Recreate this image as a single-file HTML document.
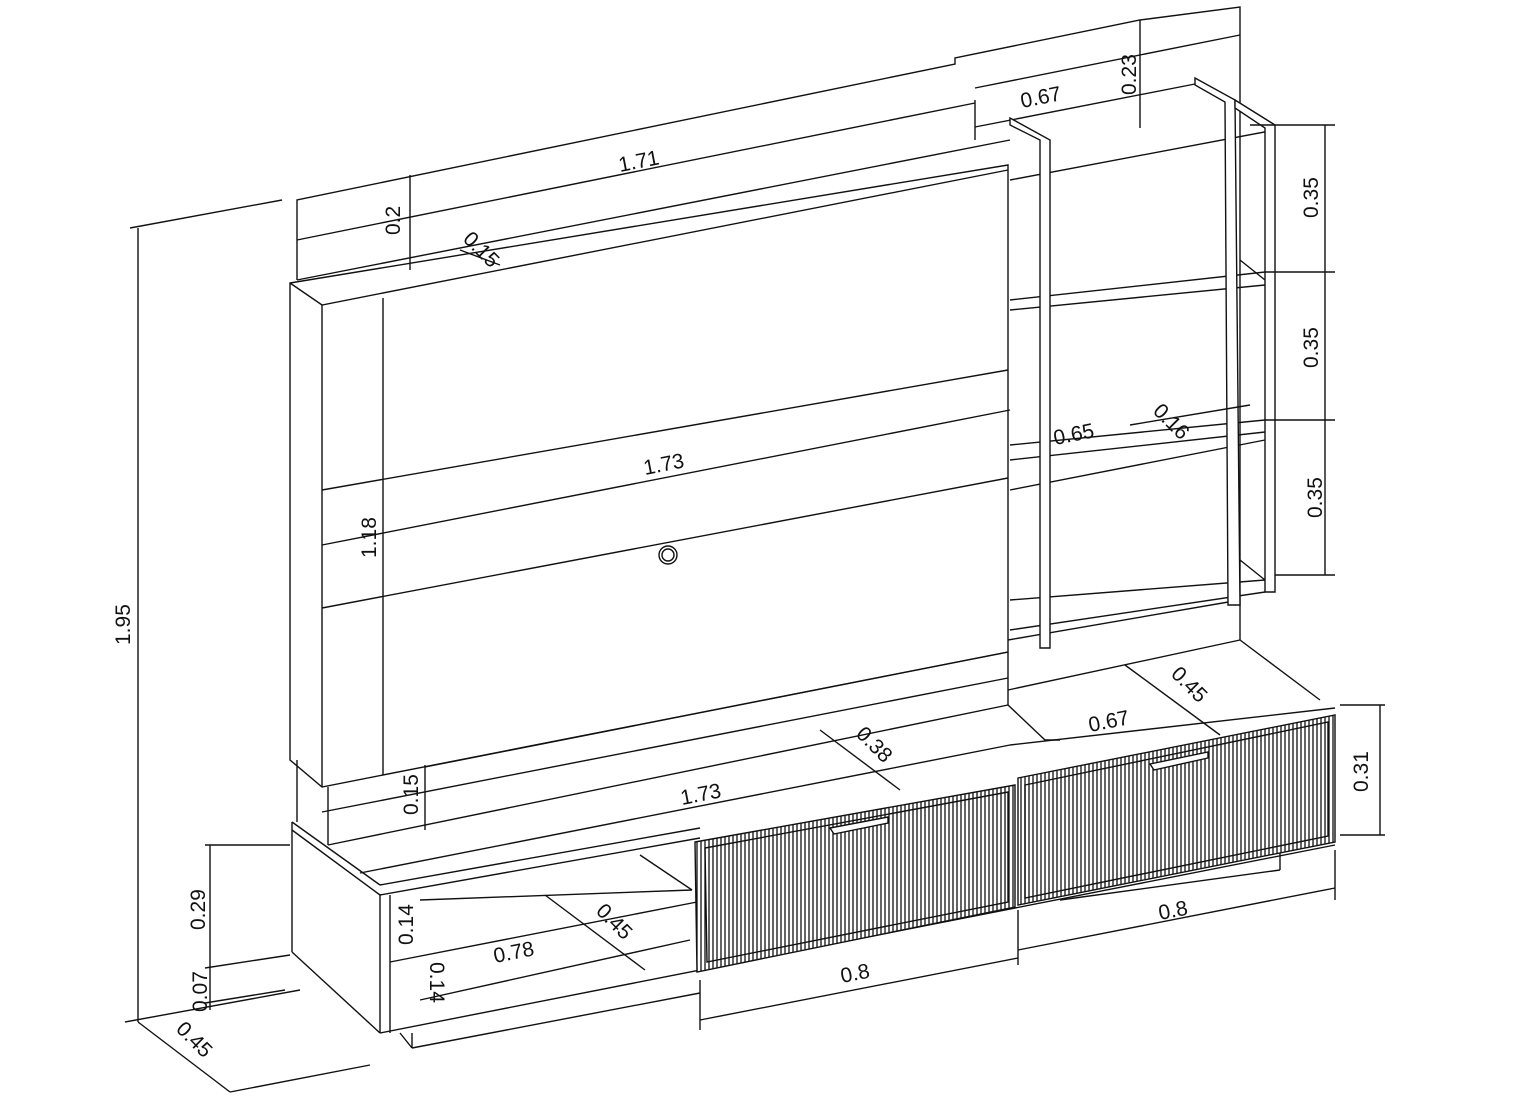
<!DOCTYPE html>
<html><head><style>
html,body{margin:0;padding:0;background:#fff;}
svg{display:block}
text{font-family:"Liberation Sans",sans-serif;font-size:21px;fill:#111;}
</style></head><body>
<svg width="1517" height="1113" viewBox="0 0 1517 1113" xmlns="http://www.w3.org/2000/svg">
<defs>
<pattern id="h" width="4" height="10" patternUnits="userSpaceOnUse">
<rect width="4" height="10" fill="#fff"/><line x1="1" y1="0" x2="1" y2="10" stroke="#111" stroke-width="1.3"/>
</pattern>
</defs>
<g fill="none" stroke="#111" stroke-width="1.4">
<!-- back top panel -->
<polyline points="297,280 297,200 955,64 955,58 1140,20 1240,7 1240,640"/>
<line x1="297" y1="280" x2="1010" y2="140"/>
<line x1="975" y1="100" x2="975" y2="140"/>
<line x1="975" y1="127" x2="1195" y2="84"/>
<!-- main panel -->
<polygon points="290,283 1008,165 1008,652 322,787 290,760" fill="#fff"/>
<polyline points="290,283 322,305 1008,170"/>
<line x1="322" y1="305" x2="322" y2="787"/>
<line x1="322" y1="490" x2="1008" y2="370"/>
<line x1="322" y1="608" x2="1008" y2="478"/>
<!-- lower box -->
<line x1="297" y1="760" x2="297" y2="822"/>
<line x1="328" y1="787" x2="328" y2="845"/>
<line x1="328" y1="845" x2="1008" y2="705"/>
<line x1="1008" y1="652" x2="1008" y2="705"/>
<polyline points="1008,705 1045,740 1060,740"/>
<circle cx="668" cy="555" r="9"/><circle cx="668" cy="555" r="6"/>
<!-- right shelf unit -->
<line x1="1010" y1="180" x2="1275" y2="130"/>
<line x1="1010" y1="300" x2="1265" y2="272"/>
<line x1="1010" y1="310" x2="1265" y2="285"/>
<line x1="1010" y1="445" x2="1265" y2="420"/>
<line x1="1010" y1="460" x2="1265" y2="432"/>
<line x1="1010" y1="490" x2="1265" y2="440"/>
<line x1="1010" y1="600" x2="1265" y2="580"/>
<line x1="1010" y1="630" x2="1265" y2="592"/>
<line x1="1008" y1="640" x2="1240" y2="600"/>
<line x1="1008" y1="690" x2="1240" y2="640"/>
<line x1="1240" y1="640" x2="1320" y2="700"/>
<polygon points="1010,118 1050,140 1050,648 1040,648 1040,140 1010,125" fill="#fff"/>
<polygon points="1195,78 1235,100 1240,605 1228,605 1225,102 1195,85" fill="#fff"/>
<polygon points="1235,100 1275,125 1275,592 1265,592 1265,128 1235,108" fill="#fff"/>
<line x1="1240" y1="260" x2="1265" y2="280"/>
<line x1="1240" y1="560" x2="1265" y2="580"/>
<!-- base -->
<line x1="292" y1="822" x2="292" y2="952"/>
<line x1="292" y1="952" x2="380" y2="1033"/>
<line x1="292" y1="822" x2="380" y2="885"/>
<line x1="292" y1="830" x2="380" y2="895"/>
<line x1="380" y1="885" x2="700" y2="828"/>
<line x1="380" y1="895" x2="700" y2="838"/>
<line x1="360" y1="873" x2="1010" y2="745"/>
<line x1="1010" y1="745" x2="1335" y2="708"/>
<line x1="380" y1="895" x2="380" y2="1033"/>
<line x1="390" y1="895" x2="390" y2="1033"/>
<line x1="380" y1="1033" x2="1335" y2="845"/>
<line x1="412" y1="1033" x2="412" y2="1048"/>
<line x1="400" y1="1033" x2="412" y2="1048"/>
<line x1="412" y1="1048" x2="700" y2="993"/>
<line x1="390" y1="962" x2="697" y2="902"/>
<line x1="640" y1="855" x2="692" y2="890"/>
<line x1="420" y1="900" x2="692" y2="890"/>
<line x1="1280" y1="845" x2="1280" y2="870"/>
<line x1="1060" y1="900" x2="1280" y2="870"/>
<!-- doors -->
<polygon points="695,842 1015,785 1015,907 697,972" fill="url(#h)"/>
<polygon points="705,848 1008,792 1008,902 707,962"/>
<polygon points="1018,778 1335,715 1335,842 1018,905" fill="url(#h)"/>
<polygon points="1025,785 1328,722 1328,836 1025,898"/>
<polygon points="830,828 888,817 888,823 834,834" fill="#fff"/>
<polygon points="1150,764 1208,752 1208,758 1154,770" fill="#fff"/>
<!-- dimension lines -->
<line x1="138" y1="228" x2="138" y2="1022"/>
<line x1="130" y1="228" x2="282" y2="200"/>
<line x1="125" y1="1022" x2="300" y2="990"/>
<line x1="138" y1="1022" x2="230" y2="1092"/>
<line x1="230" y1="1092" x2="370" y2="1065"/>
<line x1="297" y1="240" x2="975" y2="103"/>
<line x1="410" y1="175" x2="410" y2="270"/>
<line x1="975" y1="88" x2="1240" y2="35"/>
<line x1="1140" y1="20" x2="1140" y2="128"/>
<line x1="1250" y1="125" x2="1335" y2="125"/>
<line x1="1325" y1="125" x2="1325" y2="575"/>
<line x1="1265" y1="272" x2="1335" y2="272"/>
<line x1="1265" y1="420" x2="1335" y2="420"/>
<line x1="1275" y1="575" x2="1335" y2="575"/>
<line x1="1340" y1="705" x2="1385" y2="705"/>
<line x1="1380" y1="705" x2="1380" y2="835"/>
<line x1="1340" y1="835" x2="1385" y2="835"/>
<line x1="383" y1="298" x2="383" y2="775"/>
<line x1="322" y1="545" x2="1010" y2="410"/>
<line x1="425" y1="765" x2="425" y2="830"/>
<line x1="425" y1="767" x2="1008" y2="652"/>
<line x1="322" y1="812" x2="1008" y2="678"/>
<line x1="210" y1="845" x2="210" y2="1010"/>
<line x1="205" y1="845" x2="290" y2="845"/>
<line x1="205" y1="968" x2="290" y2="955"/>
<line x1="205" y1="1003" x2="285" y2="990"/>
<line x1="700" y1="980" x2="700" y2="1030"/>
<line x1="700" y1="1020" x2="1018" y2="958"/>
<line x1="1018" y1="910" x2="1018" y2="965"/>
<line x1="1018" y1="950" x2="1335" y2="888"/>
<line x1="1335" y1="850" x2="1335" y2="900"/>
<line x1="420" y1="1000" x2="690" y2="940"/>
<line x1="545" y1="895" x2="645" y2="970"/>
<line x1="820" y1="730" x2="900" y2="790"/>
<line x1="1125" y1="665" x2="1220" y2="735"/>
<line x1="1130" y1="425" x2="1250" y2="405"/>
<line x1="460" y1="250" x2="500" y2="265"/>
</g>
<g>
<text transform="translate(620,172) rotate(-11)">1.71</text>
<text transform="translate(400,235) rotate(-90)">0.2</text>
<text transform="translate(462,240) rotate(45)">0.15</text>
<text transform="translate(1022,108) rotate(-11)">0.67</text>
<text transform="translate(1136,95) rotate(-90)">0.23</text>
<text transform="translate(1318,218) rotate(-90)">0.35</text>
<text transform="translate(1318,368) rotate(-90)">0.35</text>
<text transform="translate(1322,518) rotate(-90)">0.35</text>
<text transform="translate(645,475) rotate(-11)">1.73</text>
<text transform="translate(376,558) rotate(-90)">1.18</text>
<text transform="translate(1055,445) rotate(-11)">0.65</text>
<text transform="translate(1152,412) rotate(45)">0.16</text>
<text transform="translate(130,645) rotate(-90)">1.95</text>
<text transform="translate(1170,675) rotate(45)">0.45</text>
<text transform="translate(1090,732) rotate(-11)">0.67</text>
<text transform="translate(855,735) rotate(45)">0.38</text>
<text transform="translate(682,805) rotate(-11)">1.73</text>
<text transform="translate(418,815) rotate(-90)">0.15</text>
<text transform="translate(1368,792) rotate(-90)">0.31</text>
<text transform="translate(205,930) rotate(-90)">0.29</text>
<text transform="translate(413,945) rotate(-90)">0.14</text>
<text transform="translate(430,962) rotate(90)">0.14</text>
<text transform="translate(495,963) rotate(-11)">0.78</text>
<text transform="translate(595,912) rotate(45)">0.45</text>
<text transform="translate(842,983) rotate(-11)">0.8</text>
<text transform="translate(1160,920) rotate(-11)">0.8</text>
<text transform="translate(207,1012) rotate(-90)">0.07</text>
<text transform="translate(175,1030) rotate(45)">0.45</text>
</g>
</svg>
</body></html>
